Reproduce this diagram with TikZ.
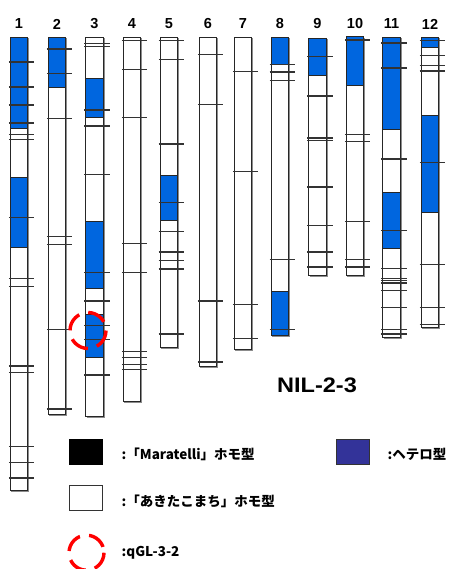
\documentclass[tikz,border=0pt]{standalone}
\usepackage{fontspec}
\setmainfont{Liberation Sans}
\newfontfamily\jp{Noto Sans CJK JP}
\definecolor{chrblue}{HTML}{0066DF}
\definecolor{hetblue}{HTML}{333399}
\tikzset{
  chrom/.style={draw=black!85, line width=1pt, fill=white},
  hetbox/.style={draw=black!85, line width=1pt, fill=chrblue},
  tickline/.style={draw=black!80, line width=1.1pt},
  shade/.style={draw=black!45, line width=1.1pt},
  num/.style={font=\bfseries\fontsize{14.5}{14.5}\selectfont, inner sep=0pt},
  legtext/.style={font=\jp\bfseries\fontsize{13.5}{14}\selectfont, inner sep=0pt, anchor=west},
  qgl/.style={draw=red, line width=3.4pt, dash pattern=on 19pt off 9.3pt}
}
\newcommand\chrbox[3]{%
  \draw[shade] (#1+18.6,#2+1) -- (#1+18.6,#3+1) -- (#1+1,#3+1);
  \draw[chrom] (#1,#2) rectangle (#1+17.5,#3);}
\newcommand\hetseg[3]{\draw[hetbox] (#1,#2) rectangle (#1+17.5,#3);}
\newcommand\tickset[2]{\foreach \t in {#2} {\draw[tickline] (#1-1.5,\t) -- (#1+24,\t);}}
\begin{document}
\begin{tikzpicture}[x=1pt,y=-1pt]
\useasboundingbox[fill=white] (0,0) rectangle (456,569);
% chromosome numbers
\foreach \n/\xx in {1/19,2/57,3/94.5,4/132,5/169,6/208,7/243,8/280,9/317.5,10/355,11/391.5,12/430}
  {\node[num] (n\n) at (\xx,24) {\n};}
% chr 1
\chrbox{10.3}{37.3}{490}
\hetseg{10.3}{37.3}{128.2}\hetseg{10.3}{177.7}{247.5}
\tickset{10.3}{62,87,105,123,134.5,139.3,217.5,278.7,286.7,366,372.3,446.7,462.7,478}
% chr 2
\chrbox{48.3}{37.3}{414}
\hetseg{48.3}{37.3}{88}
\tickset{48.3}{49,73.3,118.3,236.7,244.5,329.3,409}
% chr 3
\chrbox{85.7}{37.3}{416}
\hetseg{85.7}{78.3}{117.3}\hetseg{85.7}{221}{288.3}\hetseg{85.7}{314}{357.3}
\tickset{85.7}{43.3,46.7,110,126,174.7,272.7,301,325.7,339.3,375}
% chr 4
\chrbox{123.3}{37.3}{401.7}
\tickset{123.3}{40.7,69.3,117.3,243.3,272.7,351.7,357.3,364.7,369.7}
% chr 5
\chrbox{160}{37.3}{347.7}
\hetseg{160}{175.7}{220}
\tickset{160}{40.7,59.3,144,202.7,231.3,252,260.7,269,334}
% chr 6
\chrbox{199.3}{37.3}{366}
\tickset{199.3}{54.3,104.7,301,362}
% chr 7
\chrbox{234.3}{37.3}{349}
\tickset{234.3}{71.7,171.3,304.7,338.7}
% chr 8
\chrbox{271}{37.3}{335.7}
\hetseg{271}{37.3}{64.3}\hetseg{271}{291.7}{335.7}
\tickset{271}{64.3,72,80.7,259.7,329.3}
% chr 9
\chrbox{308.7}{38.3}{275.7}
\hetseg{308.7}{38.3}{75.3}
\tickset{308.7}{56.7,96,138,140.5,187,225.7,252,267}
% chr 10
\chrbox{346.3}{36.7}{275.7}
\hetseg{346.3}{36.7}{86}
\tickset{346.3}{40,134.7,141.7,221.7,259.7,267}
% chr 11
\chrbox{382.7}{37.3}{337.3}
\hetseg{382.7}{37.3}{129.3}\hetseg{382.7}{192.7}{248.3}
\tickset{382.7}{43,68,159,230.7,268.3,278.3,280.5,283,290.3,307.3,329.3,334}
% chr 12
\chrbox{421}{37.3}{327.3}
\hetseg{421}{37.3}{47.3}\hetseg{421}{116}{212.7}
\tickset{421}{40.3,55.7,65.7,71,162.7,264.7,307.3,324.7}
% qGL-3-2 marker
\draw[qgl] (88,330.5) circle (18);
% title
\node[inner sep=0pt, font=\bfseries\fontsize{21}{21}\selectfont] (title) at (317,385.5) {\scalebox{1.12}[1]{NIL-2-3}};
% legend
\node[draw=black, line width=0.8pt, fill=black, minimum width=33pt, minimum height=25pt, inner sep=0pt] (lblack) at (86,451.5) {};
\node[draw=black!80, line width=1pt, fill=hetblue, minimum width=33pt, minimum height=25pt, inner sep=0pt] (lhet) at (353,451.5) {};
\node[draw=black!80, line width=1pt, fill=white, minimum width=33pt, minimum height=25pt, inner sep=0pt] (lwhite) at (86,498.3) {};
\draw[qgl] (86.5,552.7) circle (17.5);
\coordinate (lqgl) at (86.5,552.7);
\node[legtext] (tblack) at (121.5,454) {:「Maratelli」ホモ型};
\node[legtext] (thet) at (387.5,454) {:ヘテロ型};
\node[legtext] (twhite) at (121.5,501) {:「あきたこまち」ホモ型};
\node[legtext] (tqgl) at (121.5,553) {:qGL-3-2};
\end{tikzpicture}
\end{document}
